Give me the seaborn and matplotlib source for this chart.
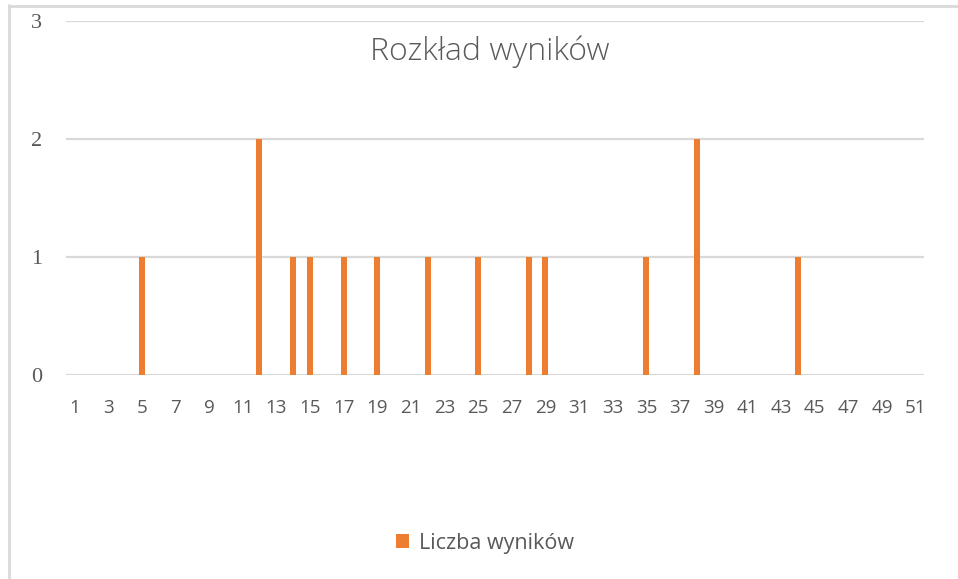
import matplotlib
matplotlib.use("Agg")
import matplotlib.pyplot as plt
from matplotlib.lines import Line2D
from matplotlib.patches import Patch
import seaborn as sns
import pandas as pd

# Data
scores = [5, 12, 14, 15, 17, 19, 22, 25, 28, 29, 35, 38, 44]
counts = [1, 2, 1, 1, 1, 1, 1, 1, 1, 1, 1, 2, 1]
categories = list(range(1, 52))
y_ticks = [0, 1, 2, 3]
title = "Rozkład wyników"
series_name = "Liczba wyników"

count_map = dict(zip(scores, counts))
df = pd.DataFrame({"wynik": categories,
                   "liczba": [count_map.get(c, 0) for c in categories]})

sns.set_theme(style="white")
plt.rcParams['font.family'] = ['Open Sans', 'DejaVu Sans']

fig = plt.figure(figsize=(9.58, 5.79), dpi=100)
ax = fig.add_axes([66/958, 1-375/579, (924-66)/958, (375-21)/579])

grid_c = "#D9D9D9"
for yv in y_ticks:
    ax.axhline(yv, color=grid_c, lw=1.6, zorder=0)

sns.barplot(data=df, x="wynik", y="liczba", order=categories, color="#ED7D31",
            width=0.36, saturation=1, ax=ax, zorder=2, linewidth=0)

ax.set_xlim(-0.5, len(categories) - 0.5)
ax.set_ylim(0, 3)
ax.set_yticks(y_ticks)
ax.set_yticklabels([str(v) for v in y_ticks], family=['Liberation Serif'],
                   fontsize=16, color="#595959")
pos = list(range(0, len(categories), 2))
ax.set_xticks(pos)
ax.set_xticklabels([str(categories[p]) for p in pos], fontsize=13.5, color="#595959")
ax.tick_params(axis='x', length=0, pad=17)
ax.tick_params(axis='y', length=0, pad=17)
ax.set_xlabel("")
ax.set_ylabel("")
for s in ax.spines.values():
    s.set_visible(False)

fig.text(490/958, 1-52/579, title, ha="center", va="center",
         fontsize=23, color="#595959", family=['Open Sans', 'DejaVu Sans'],
         fontweight="light")

handles = [Patch(facecolor="#ED7D31", edgecolor="none", label=series_name)]
fig.legend(handles=handles, loc="center", bbox_to_anchor=(485/958, 1-543/579),
           frameon=False, fontsize=15.5, handlelength=0.6, handleheight=0.6,
           handletextpad=0.5, labelcolor="#595959")

# chart border lines (top and left visible)
fig.add_artist(Line2D([9/958, 9/958], [0, 1-5/579], transform=fig.transFigure,
                      color=grid_c, lw=2))
fig.add_artist(Line2D([9/958, 1], [1-6/579, 1-6/579], transform=fig.transFigure,
                      color=grid_c, lw=2))

fig.savefig("out.png", dpi=100)
